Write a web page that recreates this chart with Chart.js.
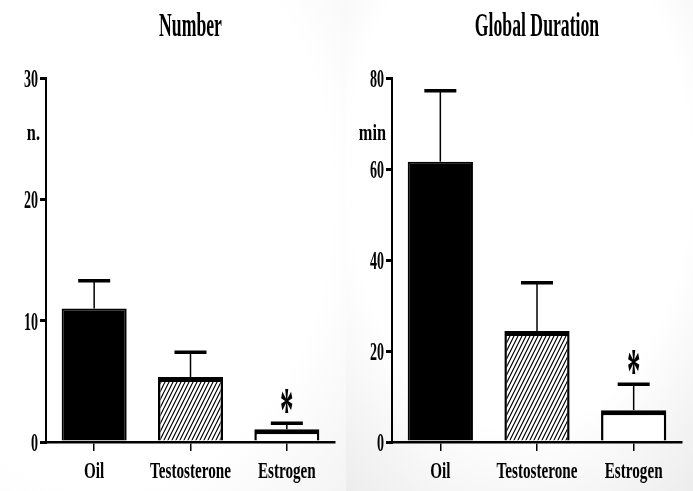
<!DOCTYPE html>
<html>
<head>
<meta charset="utf-8">
<script src="https://cdn.jsdelivr.net/npm/chart.js@4"></script>
<style>
  html, body { margin: 0; padding: 0; }
  body { width: 693px; height: 491px; overflow: hidden; display: flex; background: #fff; }
  .panel { height: 491px; }
  #p1 { width: 346px; background: radial-gradient(ellipse 110% 100% at 30% 40%, #ffffff 60%, #efefef 100%); }
  #p2 { width: 347px; background: radial-gradient(ellipse 90% 95% at 50% 35%, #ffffff 55%, #e6e6e6 100%); }
  canvas { display: block; }
</style>
</head>
<body>
<div class="panel" id="p1"><canvas id="numberChart" width="346" height="491"></canvas></div>
<div class="panel" id="p2"><canvas id="durationChart" width="347" height="491"></canvas></div>
<script>
const groups = ['Oil', 'Testosterone', 'Estrogen']
const numberMean = [11.0, 5.35, 1.05]
const numberSem = [2.3, 2.05, 0.5]
const durationMean = [61.6, 24.4, 7.0]
const durationSem = [15.6, 10.6, 5.7]
const marks = ['', '', '*']
const numberTicks = [0, 10, 20, 30]
const durationTicks = [0, 20, 40, 60, 80]

// diagonal hatch for the testosterone bar
const hatch = () => {
  const c = document.createElement('canvas')
  c.width = 4
  c.height = 8
  const g = c.getContext('2d')
  g.fillStyle = '#fff'
  g.fillRect(0, 0, 4, 8)
  g.strokeStyle = '#000'
  g.lineWidth = 1.2
  g.beginPath()
  g.moveTo(0, 8); g.lineTo(4, 0)
  g.moveTo(-4, 8); g.lineTo(0, 0)
  g.moveTo(4, 8); g.lineTo(8, 0)
  g.stroke()
  return g.createPattern(c, 'repeat')
}

// the original lettering is a tall, squeezed bold serif
const squeezed = (ctx, text, x, y, size, sx, align) => {
  ctx.save()
  ctx.font = `bold ${size}px "Liberation Serif", "Times New Roman", serif`
  ctx.fillStyle = '#000'
  ctx.textAlign = align
  ctx.textBaseline = 'alphabetic'
  ctx.translate(x, y)
  ctx.scale(sx, 1)
  ctx.fillText(text, 0, 0)
  ctx.restore()
}

const decorations = {
  id: 'decorations',
  afterDatasetsDraw(chart) {
    const ctx = chart.ctx
    const ds = chart.data.datasets[0]
    const yScale = chart.scales.y
    chart.getDatasetMeta(0).data.forEach((bar, i) => {
      const top = yScale.getPixelForValue(ds.data[i] + ds.errors[i])
      ctx.save()
      ctx.strokeStyle = '#000'
      ctx.lineWidth = 1.5
      ctx.beginPath()
      ctx.moveTo(bar.x, bar.y)
      ctx.lineTo(bar.x, top)
      ctx.stroke()
      ctx.lineWidth = 3.5
      ctx.beginPath()
      ctx.moveTo(bar.x - 16, top)
      ctx.lineTo(bar.x + 16, top)
      ctx.stroke()
      ctx.restore()
      if (ds.marks[i]) squeezed(ctx, ds.marks[i], bar.x, top + 8, 64, 0.42, 'center')
    })
  },
  afterDraw(chart) {
    const ctx = chart.ctx
    const area = chart.chartArea
    const opts = chart.options.plugins.decorations
    squeezed(ctx, opts.title, (area.left + area.right) / 2, 36, 34, 0.52, 'center')
    squeezed(ctx, opts.unit, area.left - 6, area.top + 62, 24, 0.68, 'right')
    chart.scales.y.ticks.forEach(t => {
      squeezed(ctx, String(t.value), area.left - 8, chart.scales.y.getPixelForValue(t.value) + 9, 26, 0.54, 'right')
    })
    chart.data.labels.forEach((label, i) => {
      squeezed(ctx, label, chart.scales.x.getPixelForTick(i), 478, 23, 0.66, 'center')
    })
  }
}

const makePanel = (id, title, unit, means, sems, tickValues) => {
  const ctx = document.getElementById(id)
  return new Chart(ctx, {
    type: 'bar',
    data: {
      labels: groups,
      datasets: [{
        data: means,
        errors: sems,
        marks: marks,
        backgroundColor: ['#000', hatch(), '#fff'],
        borderColor: '#000',
        borderWidth: [
          { top: 2, left: 2, right: 2, bottom: 0 },
          { top: 5, left: 2.5, right: 2.5, bottom: 0 },
          { top: 5, left: 2.5, right: 2.5, bottom: 0 }
        ],
        barPercentage: 0.675,
        categoryPercentage: 1
      }]
    },
    options: {
      responsive: false,
      animation: false,
      events: [],
      layout: { padding: { top: 78, right: 11, left: 0, bottom: 0 } },
      plugins: {
        legend: { display: false },
        tooltip: { enabled: false },
        decorations: { title: title, unit: unit }
      },
      scales: {
        x: {
          offset: true,
          ticks: { display: false },
          grid: { drawOnChartArea: false, offset: false, tickLength: 9, lineWidth: 1.5, color: '#000' },
          border: { display: true, width: 2.5, color: '#000' },
          afterFit: s => { s.height = 49 }
        },
        y: {
          min: tickValues[0],
          max: tickValues[tickValues.length - 1],
          ticks: { display: false },
          afterBuildTicks: s => { s.ticks = tickValues.map(v => ({ value: v })) },
          grid: { drawOnChartArea: false, tickLength: 6, lineWidth: 3, color: '#000' },
          border: { display: true, width: 2, color: '#000' },
          afterFit: s => { s.width = 46 }
        }
      }
    },
    plugins: [decorations]
  })
}

makePanel('numberChart', 'Number', 'n.', numberMean, numberSem, numberTicks)
makePanel('durationChart', 'Global Duration', 'min', durationMean, durationSem, durationTicks)
</script>
</body>
</html>
